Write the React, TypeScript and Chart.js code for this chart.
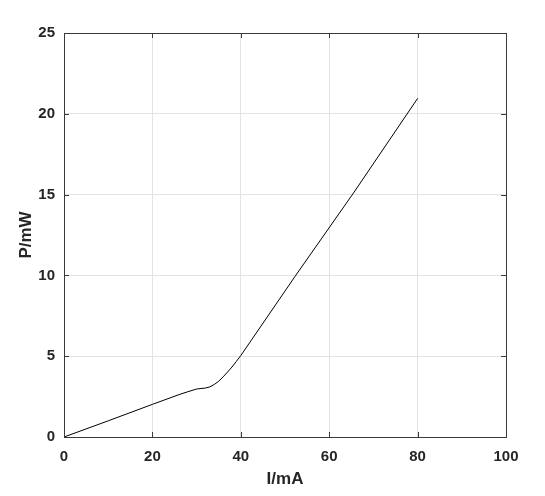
import React, { useEffect, useRef } from "react";
import { Chart, registerables } from "chart.js";

Chart.register(...registerables);

const currentMA = [0, 10, 20, 26, 28, 30, 31, 32, 33, 34, 35, 36, 37, 38, 39, 40, 52.3, 65.5, 80];
const powerMW = [0, 1.0, 2.02, 2.62, 2.8, 2.97, 3.0, 3.03, 3.1, 3.25, 3.45, 3.72, 4.02, 4.33, 4.68, 5.04, 9.95, 15.1, 20.95];
const xTicks = [0, 20, 40, 60, 80, 100];
const yTicks = [0, 5, 10, 15, 20, 25];

const PLOT = { left: 64, right: 506, top: 33, bottom: 437 };

const tickMarks = {
  id: "tickMarks",
  afterDraw(chart: any) {
    const { ctx, chartArea, scales } = chart;
    ctx.save();
    ctx.strokeStyle = "#3a3a3a";
    ctx.lineWidth = 1;
    const len = 5;
    xTicks.forEach((v) => {
      const x = Math.round(scales.x.getPixelForValue(v)) + 0.5;
      ctx.beginPath();
      ctx.moveTo(x, chartArea.bottom);
      ctx.lineTo(x, chartArea.bottom - len);
      ctx.moveTo(x, chartArea.top);
      ctx.lineTo(x, chartArea.top + len);
      ctx.stroke();
    });
    yTicks.forEach((v) => {
      const y = Math.round(scales.y.getPixelForValue(v)) + 0.5;
      ctx.beginPath();
      ctx.moveTo(chartArea.left, y);
      ctx.lineTo(chartArea.left + len, y);
      ctx.moveTo(chartArea.right, y);
      ctx.lineTo(chartArea.right - len, y);
      ctx.stroke();
    });
    ctx.strokeRect(chartArea.left + 0.5, chartArea.top + 0.5, chartArea.right - chartArea.left, chartArea.bottom - chartArea.top);
    ctx.restore();
  },
};

export default function App() {
  const ref = useRef<HTMLCanvasElement>(null);
  useEffect(() => {
    document.body.style.margin = "0";
    const font = "'Liberation Sans', Arial, sans-serif";
    const chart = new Chart(ref.current!, {
      type: "line",
      data: {
        datasets: [
          {
            data: currentMA.map((x, i) => ({ x, y: powerMW[i] })),
            borderColor: "#000000",
            borderWidth: 1,
            pointRadius: 0,
            tension: 0,
            fill: false,
          },
        ],
      },
      options: {
        animation: false,
        responsive: false,
        maintainAspectRatio: false,
        layout: { padding: { left: 0, top: PLOT.top, right: 545 - PLOT.right, bottom: 0 } },
        plugins: { legend: { display: false }, tooltip: { enabled: false } },
        scales: {
          x: {
            type: "linear",
            min: 0,
            max: 100,
            afterBuildTicks: (s: any) => { s.ticks = xTicks.map((v) => ({ value: v })); },
            afterFit: (s: any) => { s.height = 496 - PLOT.bottom; },
            grid: { color: "#e3e3e3", drawTicks: false },
            border: { display: false },
            ticks: { color: "#262626", padding: 11, font: { family: font, size: 15, weight: "bold" } },
            title: { display: true, text: "I/mA", color: "#262626", padding: { top: 4, bottom: 6 }, font: { family: font, size: 17, weight: "bold" } },
          },
          y: {
            type: "linear",
            min: 0,
            max: 25,
            afterBuildTicks: (s: any) => { s.ticks = yTicks.map((v) => ({ value: v })); },
            afterFit: (s: any) => { s.width = PLOT.left; },
            grid: { color: "#e3e3e3", drawTicks: false },
            border: { display: false },
            ticks: { color: "#262626", padding: 9, font: { family: font, size: 15, weight: "bold" } },
            title: { display: true, text: "P/mW", color: "#262626", padding: { top: 16, bottom: 4 }, font: { family: font, size: 17, weight: "bold" } },
          },
        },
      },
      plugins: [tickMarks],
    });
    return () => chart.destroy();
  }, []);
  return (
    <div style={{ width: 545, height: 496, background: "#ffffff" }}>
      <canvas ref={ref} width={545} height={496} style={{ width: 545, height: 496, display: "block" }} />
    </div>
  );
}
